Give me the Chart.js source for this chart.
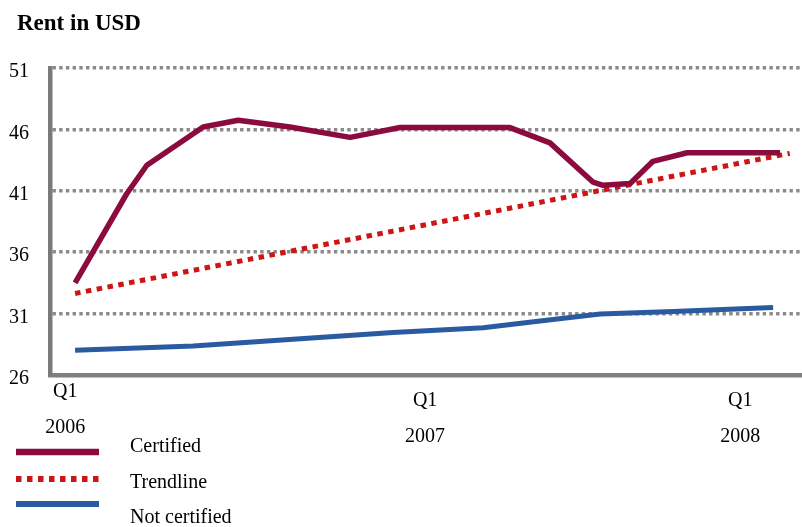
<!DOCTYPE html>
<html>
<head>
<meta charset="utf-8">
<script src="https://cdn.jsdelivr.net/npm/chart.js@4"></script>
<style>
  body { margin: 0; background: #fff; }
  canvas { display: block; }
</style>
</head>
<body>
<canvas id="chart" width="802" height="527"></canvas>
<script>
// x = months since Q1 2006
const certifiedX = [0, 1.77, 2.46, 4.39, 5.59, 7.37, 9.43, 11.14, 14.91, 16.28, 17.76, 18.1, 19.03, 19.81, 20.98, 24.17];
const certifiedY = [33.5, 40.76, 43.08, 46.2, 46.75, 46.2, 45.35, 46.15, 46.15, 44.9, 41.7, 41.45, 41.6, 43.4, 44.1, 44.1];

const trendX = [0, 24.5];
const trendY = [32.64, 44.05];

const notCertX = [0, 4.05, 7.47, 10.9, 13.99, 15.94, 18.0, 20.5, 23.93];
const notCertY = [28.02, 28.37, 28.92, 29.46, 29.85, 30.4, 30.96, 31.17, 31.5];

const tickPos = [-0.34, 12, 22.8];
const tickLabels = [
  ['Q1', '', '', '', '2006'],
  ['', 'Q1', '', '', '', '2007'],
  ['', 'Q1', '', '', '', '2008']
];
const yTicks = [26, 31, 36, 41, 46, 51];

const SERIF = '"Liberation Serif", "Times New Roman", serif';

const pts = (xs, ys) => xs.map((x, i) => ({ x, y: ys[i] }));

// title + legend drawn by hand (odd layout in the original)
const extras = {
  id: 'extras',
  afterDraw(chart) {
    const ctx = chart.ctx;
    ctx.save();
    ctx.fillStyle = '#000';
    ctx.textBaseline = 'middle';
    ctx.font = 'bold 23px ' + SERIF;
    ctx.fillText('Rent in USD', 17, 24);

    const rows = [
      { ds: 0, ly: 452, ty: 447 },
      { ds: 1, ly: 479, ty: 483 },
      { ds: 2, ly: 504, ty: 518 }
    ];
    ctx.font = '20px ' + SERIF;
    rows.forEach(r => {
      const d = chart.data.datasets[r.ds];
      ctx.save();
      ctx.strokeStyle = d.borderColor;
      ctx.lineWidth = d.borderWidth + 1;
      ctx.setLineDash(d.borderDash || []);
      ctx.beginPath();
      ctx.moveTo(16, r.ly);
      ctx.lineTo(99, r.ly);
      ctx.stroke();
      ctx.restore();
      ctx.fillText(d.label, 130, r.ty);
    });
    ctx.restore();
  }
};

new Chart(document.getElementById('chart'), {
  type: 'line',
  data: {
    datasets: [
      { label: 'Certified', data: pts(certifiedX, certifiedY), borderColor: '#8c0b3e', borderWidth: 5.5, borderJoinStyle: 'round' },
      { label: 'Trendline', data: pts(trendX, trendY), borderColor: '#cc1616', borderWidth: 5, borderDash: [5.5, 5.5] },
      { label: 'Not certified', data: pts(notCertX, notCertY), borderColor: '#2a5aa0', borderWidth: 5, borderJoinStyle: 'round' }
    ]
  },
  options: {
    responsive: false,
    animation: false,
    layout: { padding: { top: 68, left: 0, right: 0, bottom: 77 } },
    elements: { point: { radius: 0 }, line: { tension: 0 } },
    plugins: { legend: { display: false }, title: { display: false }, tooltip: { enabled: false } },
    scales: {
      x: {
        type: 'linear',
        min: -0.86,
        max: 24.92,
        afterBuildTicks: s => { s.ticks = tickPos.map(v => ({ value: v })); },
        afterFit: s => { s.height = 75; },
        grid: { display: false, drawTicks: false },
        border: { color: '#808080', width: 4.5 },
        ticks: {
          autoSkip: false,
          maxRotation: 0,
          padding: 12,
          color: '#000',
          font: { family: SERIF, size: 20, lineHeight: '9px' },
          callback: (v, i) => tickLabels[i]
        }
      },
      y: {
        min: 26,
        max: 51,
        afterBuildTicks: s => { s.ticks = yTicks.map(v => ({ value: v })); },
        afterFit: s => { s.width = 50; },
        grid: { color: '#8a8a8a', lineWidth: 3.5, drawTicks: false },
        border: { color: '#7a7a7a', width: 4.5, dash: [3.4, 3.3] },
        ticks: {
          padding: 21,
          labelOffset: 4,
          color: '#000',
          font: { family: SERIF, size: 20 }
        }
      }
    }
  },
  plugins: [extras]
});
</script>
</body>
</html>
